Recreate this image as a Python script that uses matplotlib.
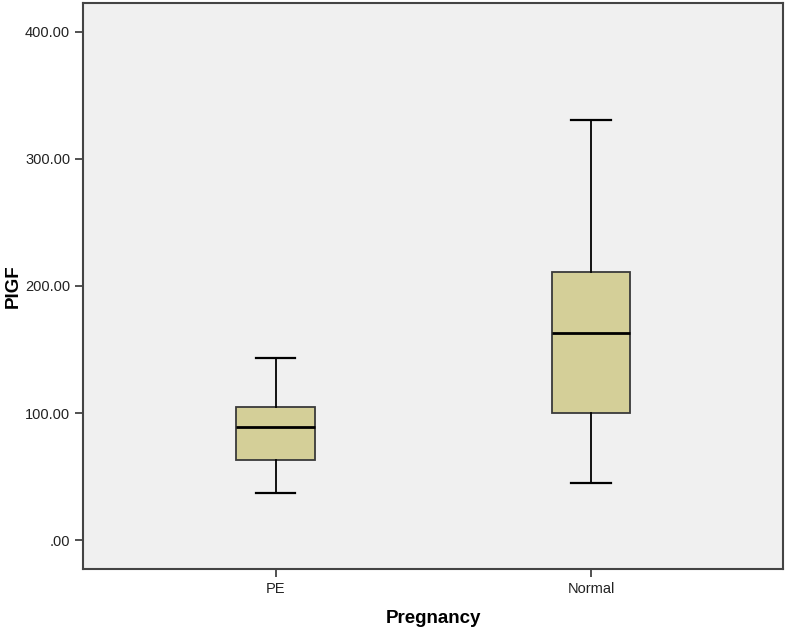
import matplotlib
matplotlib.use("Agg")
import matplotlib.pyplot as plt

groups = ["PE", "Normal"]
whisker_low = [37.2, 44.8]
q1 = [62.9, 99.9]
medians = [89.1, 162.8]
q3 = [105.1, 211.2]
whisker_high = [143.1, 330.5]

yticks = [0, 100, 200, 300, 400]
ytick_labels = [".00", "100.00", "200.00", "300.00", "400.00"]

plt.rcParams["font.family"] = ["Liberation Sans", "DejaVu Sans"]

fig = plt.figure(figsize=(7.87, 6.3), dpi=100)
ax = fig.add_axes([0.1059, 0.0968, 0.8894, 0.8989])
ax.set_facecolor("#F0F0F0")

stats = []
for i in range(len(groups)):
    stats.append({
        "label": groups[i],
        "whislo": whisker_low[i],
        "q1": q1[i],
        "med": medians[i],
        "q3": q3[i],
        "whishi": whisker_high[i],
        "fliers": [],
    })

ax.bxp(stats, positions=[1, 2], widths=0.25, patch_artist=True,
       showfliers=False, capwidths=0.125,
       boxprops=dict(facecolor="#D4CF98", edgecolor="#3a3a3a", linewidth=1.3),
       medianprops=dict(color="black", linewidth=2),
       whiskerprops=dict(color="black", linewidth=1.3),
       capprops=dict(color="black", linewidth=1.6))

ax.set_xlim(0.39, 2.61)
ax.set_ylim(-22.6, 422.8)
ax.set_yticks(yticks)
ax.set_yticklabels(ytick_labels)
ax.set_xticks([1, 2])
ax.set_xticklabels(groups)
ax.tick_params(axis="both", labelsize=10.5, color="#333333", labelcolor="#222222",
               length=6, width=1.2)
for s in ax.spines.values():
    s.set_color("#444444")
    s.set_linewidth(1.5)

ax.set_ylabel("PIGF", fontsize=13.5, fontweight="bold")
ax.yaxis.set_label_coords(-0.088, 0.5)
ax.set_xlabel("Pregnancy", fontsize=13.5, fontweight="bold", labelpad=10)

fig.savefig("out.png", dpi=100)
